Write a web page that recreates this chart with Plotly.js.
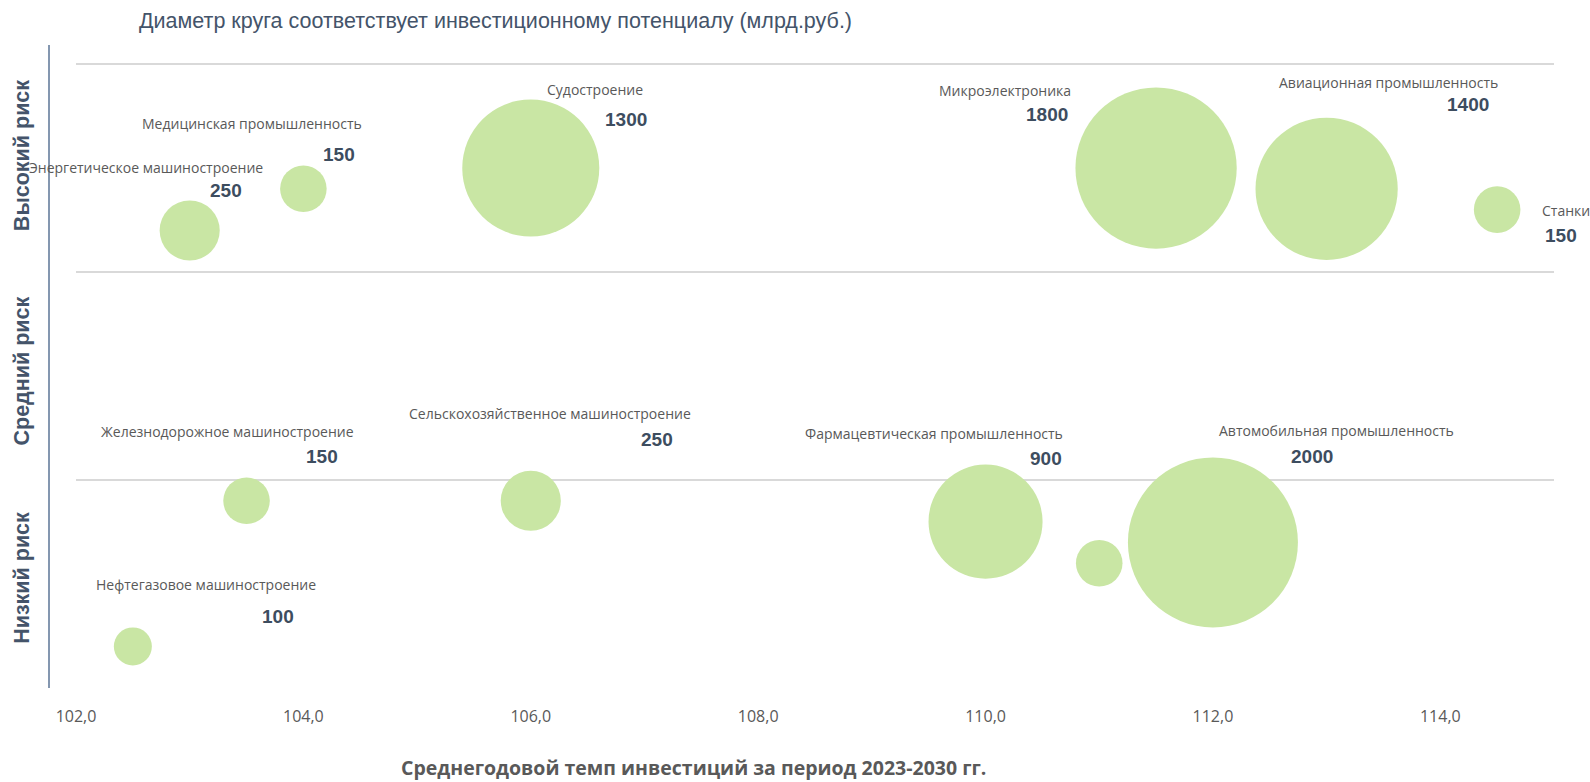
<!DOCTYPE html>
<html>
<head>
<meta charset="utf-8">
<script src="https://cdn.plot.ly/plotly-3.0.1.min.js"></script>
<style>
  html, body { margin: 0; padding: 0; background: #ffffff; }
  #chart { width: 1590px; height: 782px; }
</style>
</head>
<body>
<div id="chart"></div>
<script>
// Industries: average annual investment growth (x), risk level (y), investment potential, bn RUB (bubble area)
const industries = [
  'Энергетическое машиностроение',
  'Медицинская промышленность',
  'Судостроение',
  'Микроэлектроника',
  'Авиационная промышленность',
  'Станки',
  'Железнодорожное машиностроение',
  'Сельскохозяйственное машиностроение',
  'Нефтегазовое машиностроение',
  'Фармацевтическая промышленность',
  '',
  'Автомобильная промышленность'
];
const growthRate = [103.0, 104.0, 106.0, 111.5, 113.0, 114.5, 103.5, 106.0, 102.5, 110.0, 111.0, 112.0];
const riskLevel  = [2.2, 2.4, 2.5, 2.5, 2.4, 2.3, 0.9, 0.9, 0.2, 0.8, 0.6, 0.7];
const potential  = [250, 150, 1300, 1800, 1400, 150, 150, 250, 100, 900, 150, 2000];

const riskLabels = ['Высокий риск', 'Средний риск', 'Низкий риск'];
const xTicks = [102, 104, 106, 108, 110, 112, 114];

// Pixel offsets of the name / value labels relative to each bubble centre [dx, dy(down)]
const nameOffsets = [
  [-44, -63], [-51, -65], [64, -79], [-151, -78], [62, -106], [69, 1],
  [-19, -69], [19, -87], [73, -62], [-52, -88], null, [124, -112]
];
const valueOffsets = [
  [36, -40], [36, -34], [95, -49], [-109, -54], [141, -84], [64, 26],
  [75, -44], [126, -61], [145, -30], [60, -63], null, [99, -86]
];

const bubbleColor = 'rgb(201,230,164)';
const slate = '#44546a';
const gray = '#595959';
const maxDiameter = 170;

const trace = {
  type: 'scatter',
  mode: 'markers',
  x: growthRate,
  y: riskLevel,
  text: industries,
  cliponaxis: false,
  hoverinfo: 'text',
  marker: {
    size: potential,
    sizemode: 'area',
    sizeref: 2 * Math.max(...potential) / (maxDiameter * maxDiameter),
    color: bubbleColor,
    line: { width: 0 },
    opacity: 1
  }
};

const annotations = [];
industries.forEach((name, i) => {
  if (!name) return;
  const no = nameOffsets[i], vo = valueOffsets[i];
  annotations.push({
    x: growthRate[i], y: riskLevel[i], xref: 'x', yref: 'y',
    text: name, showarrow: false,
    xshift: no[0], yshift: -no[1],
    xanchor: 'center', yanchor: 'middle',
    font: { family: 'Open Sans, sans-serif', size: 14, color: gray }
  });
  annotations.push({
    x: growthRate[i], y: riskLevel[i], xref: 'x', yref: 'y',
    text: '<b>' + potential[i] + '</b>', showarrow: false,
    xshift: vo[0], yshift: -vo[1],
    xanchor: 'center', yanchor: 'middle',
    font: { family: 'Liberation Sans, Arial, sans-serif', size: 19, color: '#3d4d5f' }
  });
});

// Risk band captions on the left, rotated
const riskCentres = [1.0 - (157 - 64) / 624, 1.0 - (372 - 64) / 624, 1.0 - (578 - 64) / 624];
riskLabels.forEach((lbl, i) => {
  annotations.push({
    xref: 'paper', yref: 'paper',
    x: (22 - 76) / 1478, y: riskCentres[i],
    text: '<b>' + lbl + '</b>', showarrow: false, textangle: -90,
    xanchor: 'center', yanchor: 'middle',
    font: { family: 'Liberation Sans, Arial, sans-serif', size: 21.5, color: slate }
  });
});

// Chart caption and x-axis caption
annotations.push({
  xref: 'paper', yref: 'paper', x: (137 - 76) / 1478, y: 1 + (64 - 22) / 624,
  xanchor: 'left', yanchor: 'middle', showarrow: false,
  text: 'Диаметр круга соответствует инвестиционному потенциалу (млрд.руб.)',
  font: { family: 'Liberation Sans, Arial, sans-serif', size: 21.5, color: slate }
});
annotations.push({
  xref: 'paper', yref: 'paper', x: (693 - 76) / 1478, y: -(767 - 688) / 624,
  xanchor: 'center', yanchor: 'middle', showarrow: false,
  text: '<b>Среднегодовой темп инвестиций за период 2023-2030 гг.</b>',
  font: { family: 'Open Sans, sans-serif', size: 19.5, color: gray }
});

const layout = {
  width: 1590,
  height: 782,
  margin: { l: 76, r: 36, t: 63, b: 94 },
  paper_bgcolor: '#ffffff',
  plot_bgcolor: '#ffffff',
  showlegend: false,
  separators: ', ',
  xaxis: {
    range: [102, 115],
    tickvals: xTicks,
    tickformat: '.1f',
    showgrid: false,
    zeroline: false,
    showline: false,
    ticks: 'outside',
    ticklen: 14,
    tickcolor: 'rgba(0,0,0,0)',
    tickfont: { family: 'Open Sans, sans-serif', size: 16, color: gray }
  },
  yaxis: {
    range: [0, 3.005],
    tickvals: [0, 1, 2, 3],
    showticklabels: false,
    showgrid: true,
    gridcolor: '#d9d9d9',
    gridwidth: 2,
    zeroline: false,
    showline: false,
    ticks: ''
  },
  shapes: [{
    type: 'line', xref: 'paper', yref: 'paper',
    x0: (49 - 76) / 1478, x1: (49 - 76) / 1478,
    y0: 0, y1: 1 + (64 - 46) / 625,
    line: { color: '#8497b0', width: 2 }
  }],
  annotations: annotations
};

Plotly.newPlot('chart', [trace], layout, { displayModeBar: false, staticPlot: true });
</script>
</body>
</html>
